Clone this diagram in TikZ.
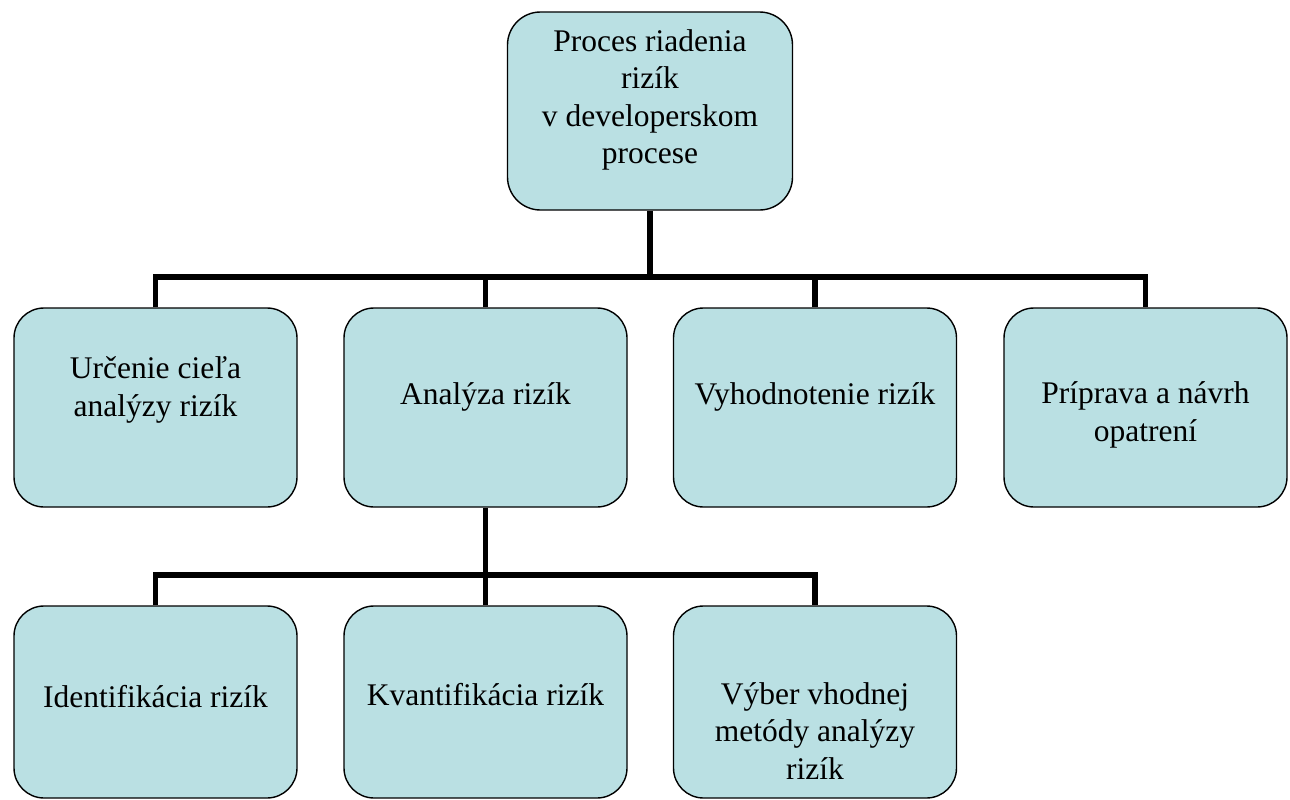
\documentclass[tikz,border=0pt]{standalone}
\usepackage{fontspec}
\setmainfont{Liberation Serif}
\definecolor{boxfill}{RGB}{186,224,227}
\tikzset{
  box/.style={draw=black, line width=1.4pt, fill=boxfill, rounded corners=30pt,
    minimum width=283pt, inner sep=0pt},
  topbox/.style={box, minimum width=285pt, minimum height=198pt, rounded corners=33pt},
  rowbox/.style={box, minimum height=199pt},
  lowbox/.style={box, minimum height=192pt},
  txt/.style={align=center, inner sep=0pt, font=\fontsize{31.5}{37.5}\selectfont},
  conn/.style={draw=black, line width=5.5pt}
}
\begin{document}
\begin{tikzpicture}[x=1pt,y=-1pt]
\useasboundingbox (0,0) rectangle (1290,800);
% boxes
\node[topbox] (top) at (650,111) {};
\node[rowbox] (n1) at (155.5,407.5) {};
\node[rowbox] (n2) at (485.5,407.5) {};
\node[rowbox] (n3) at (815,407.5) {};
\node[rowbox] (n4) at (1145.5,407.5) {};
\node[lowbox] (m1) at (155.5,702) {};
\node[lowbox] (m2) at (485.5,702) {};
\node[lowbox] (m3) at (815,702) {};
% texts
\node[txt] (ttop) at (650,100) {Proces riadenia\\rizík\\v developerskom\\procese};
\node[txt] (t1) at (155.5,390) {Určenie cieľa\\analýzy rizík};
\node[txt] (t2) at (485.5,397) {Analýza rizík};
\node[txt] (t3) at (815,397) {Vyhodnotenie rizík};
\node[txt] (t4) at (1145.5,415) {Príprava a návrh\\opatrení};
\node[txt] (u1) at (155.5,697) {Identifikácia rizík};
\node[txt] (u2) at (485.5,695) {Kvantifikácia rizík};
\node[txt] (u3) at (815,731) {Výber vhodnej\\metódy analýzy\\rizík};
% connectors
\coordinate (j1) at (650,277);
\coordinate (j2) at (485.5,575);
\draw[conn] (top.south) -- (j1);
\draw[conn] (n1.north) |- (j1) -| (n4.north);
\draw[conn] (n2.north) -- (n2.north |- j1);
\draw[conn] (n3.north) -- (n3.north |- j1);
\draw[conn] (n2.south) -- (j2);
\draw[conn] (m1.north) |- (j2) -| (m3.north);
\draw[conn] (m2.north) -- (j2);
\end{tikzpicture}
\end{document}
